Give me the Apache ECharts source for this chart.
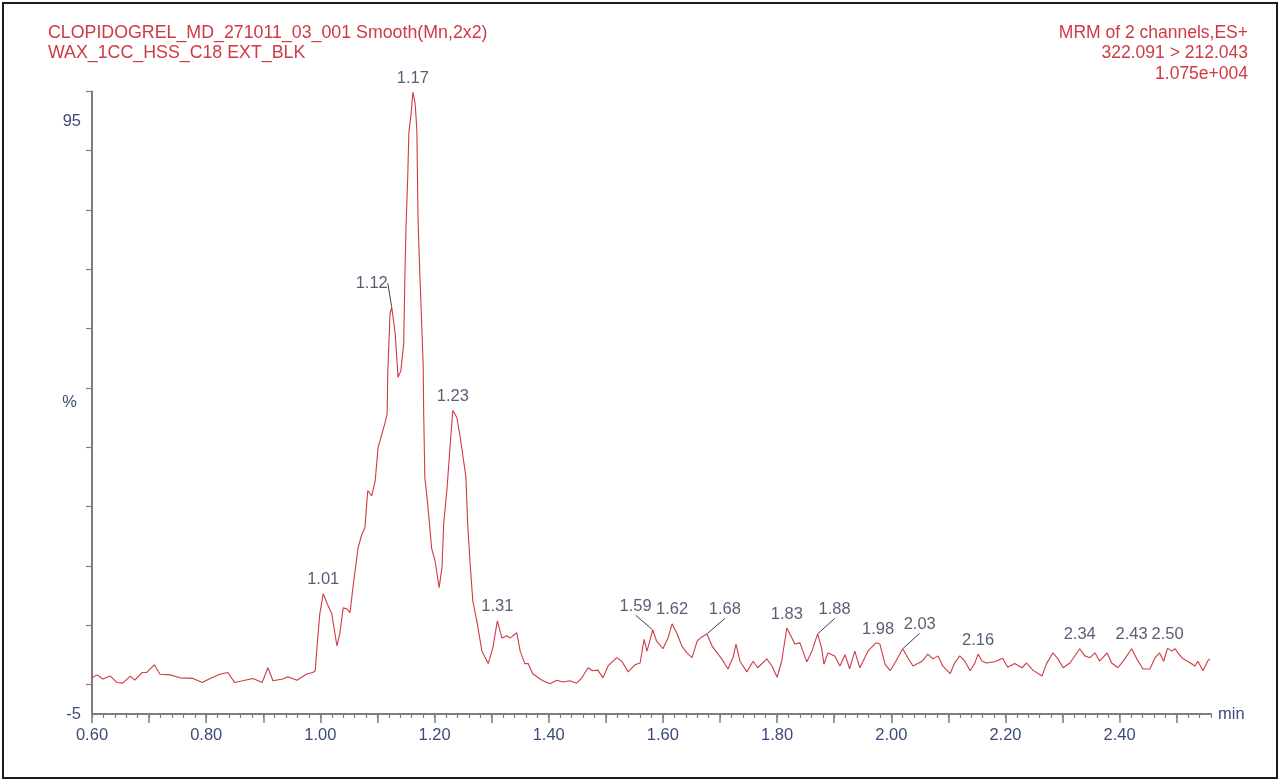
<!DOCTYPE html>
<html>
<head>
<meta charset="utf-8">
<script src="https://cdn.jsdelivr.net/npm/echarts@6/dist/echarts.min.js"></script>
<style>
  html, body { margin: 0; padding: 0; background: #ffffff; }
  #frame { position: absolute; left: 2px; top: 2px; width: 1272px; height: 773px; border: 2px solid #1a1a1a; box-sizing: content-box; }
  #chart { position: absolute; left: 0; top: 0; width: 1280px; height: 781px; }
</style>
</head>
<body>
<div id="frame"></div>
<div id="chart"></div>
<script>
// ---------------- data ----------------
const headerLeft = ['CLOPIDOGREL_MD_271011_03_001 Smooth(Mn,2x2)', 'WAX_1CC_HSS_C18 EXT_BLK'];
const headerRight = ['MRM of 2 channels,ES+', '322.091 > 212.043', '1.075e+004'];

const xLabelValues = [0.6, 0.8, 1.0, 1.2, 1.4, 1.6, 1.8, 2.0, 2.2, 2.4];
const xMajorTicks = [0.6, 0.7, 0.8, 0.9, 1.0, 1.1, 1.2, 1.3, 1.4, 1.5, 1.6, 1.7, 1.8, 1.9, 2.0, 2.1, 2.2, 2.3, 2.4, 2.5];
const yLabelValues = [-5, 95];
const yTickValues = [0, 10, 20, 30, 40, 50, 60, 70, 80, 90, 100];

// retention time (min)
const times = [
  0.600, 0.609, 0.619, 0.632, 0.644, 0.654, 0.667, 0.675, 0.688, 0.696,
  0.709, 0.719, 0.737, 0.754, 0.777, 0.793, 0.807, 0.824, 0.838, 0.850,
  0.864, 0.882, 0.898, 0.908, 0.917, 0.934, 0.943, 0.959, 0.977, 0.987,
  0.991, 0.994, 0.999, 1.005, 1.012, 1.020, 1.024, 1.029, 1.034, 1.040,
  1.047, 1.052, 1.057, 1.066, 1.073, 1.078, 1.083, 1.090, 1.096, 1.101,
  1.108, 1.113, 1.117, 1.118, 1.122, 1.125, 1.131, 1.136, 1.141, 1.146,
  1.148, 1.150, 1.153, 1.155, 1.159, 1.162, 1.166, 1.169, 1.171, 1.174,
  1.180, 1.181, 1.183, 1.188, 1.195, 1.201, 1.208, 1.213, 1.216, 1.222,
  1.227, 1.232, 1.239, 1.244, 1.250, 1.255, 1.258, 1.262, 1.267, 1.274,
  1.283, 1.294, 1.302, 1.310, 1.318, 1.327, 1.332, 1.344, 1.350, 1.358,
  1.364, 1.372, 1.385, 1.390, 1.402, 1.414, 1.425, 1.437, 1.449, 1.458,
  1.469, 1.477, 1.486, 1.495, 1.504, 1.519, 1.528, 1.539, 1.551, 1.560,
  1.567, 1.572, 1.577, 1.582, 1.589, 1.600, 1.609, 1.616, 1.625, 1.633,
  1.642, 1.651, 1.660, 1.668, 1.677, 1.686, 1.695, 1.703, 1.714, 1.723,
  1.728, 1.735, 1.747, 1.758, 1.766, 1.782, 1.791, 1.800, 1.808, 1.817,
  1.824, 1.831, 1.840, 1.852, 1.861, 1.871, 1.878, 1.882, 1.889, 1.901,
  1.910, 1.919, 1.927, 1.936, 1.945, 1.959, 1.973, 1.980, 1.989, 1.998,
  2.008, 2.020, 2.029, 2.038, 2.054, 2.064, 2.073, 2.082, 2.090, 2.103,
  2.111, 2.120, 2.129, 2.138, 2.146, 2.152, 2.159, 2.167, 2.181, 2.195,
  2.204, 2.216, 2.229, 2.237, 2.248, 2.264, 2.272, 2.283, 2.292, 2.301,
  2.313, 2.330, 2.339, 2.348, 2.357, 2.365, 2.378, 2.386, 2.397, 2.409,
  2.421, 2.430, 2.441, 2.453, 2.462, 2.470, 2.477, 2.484, 2.491, 2.497,
  2.502, 2.511, 2.519, 2.532, 2.537, 2.546, 2.554, 2.558
];
// relative intensity (%)
const intensity = [
  1.1, 1.6, 0.9, 1.4, 0.3, 0.2, 1.4, 0.7, 2.0, 2.0,
  3.3, 1.7, 1.6, 1.1, 1.0, 0.3, 1.0, 1.7, 2.0, 0.3,
  0.6, 1.0, 0.3, 2.8, 0.6, 0.9, 1.3, 0.7, 1.8, 2.0,
  2.3, 6.2, 11.9, 15.3, 13.6, 11.9, 9.5, 6.5, 8.5, 12.9,
  12.7, 12.1, 16.3, 23.0, 25.4, 26.4, 32.7, 31.8, 34.3, 39.9,
  42.3, 44.0, 45.6, 52.4, 62.5, 63.6, 59.2, 51.8, 52.9, 57.5,
  68.6, 77.1, 85.5, 93.0, 96.3, 99.9, 98.0, 93.5, 78.8, 69.8,
  54.1, 45.6, 34.9, 30.4, 22.9, 20.8, 16.3, 19.7, 27.1, 33.2,
  39.9, 46.2, 45.0, 42.3, 38.3, 34.9, 27.1, 20.8, 14.1, 10.7,
  5.6, 3.5, 6.1, 10.7, 7.8, 8.2, 7.8, 8.7, 5.6, 3.5,
  3.5, 1.8, 0.9, 0.6, 0.1, 0.7, 0.4, 0.6, 0.2, 1.1,
  2.8, 2.3, 2.4, 1.1, 3.1, 4.5, 3.9, 2.1, 3.3, 3.6,
  7.6, 5.6, 7.3, 9.2, 7.3, 6.0, 7.8, 10.2, 8.5, 6.5,
  5.3, 4.5, 7.3, 8.0, 8.5, 6.5, 5.3, 4.3, 2.6, 4.6,
  6.8, 3.9, 2.1, 3.9, 2.8, 4.3, 3.1, 1.2, 3.9, 9.5,
  8.2, 6.8, 7.0, 3.8, 5.6, 8.5, 6.1, 3.4, 5.3, 4.8,
  3.1, 5.0, 2.6, 5.6, 2.8, 5.6, 7.0, 6.8, 3.4, 2.3,
  3.9, 6.0, 4.5, 3.1, 3.9, 5.1, 4.3, 4.8, 3.1, 1.8,
  3.6, 4.8, 3.9, 2.3, 3.5, 5.1, 3.9, 3.6, 3.8, 4.4,
  2.9, 3.5, 2.8, 3.6, 2.4, 1.4, 3.5, 5.3, 4.3, 2.8,
  3.6, 6.0, 4.8, 4.5, 5.3, 3.9, 5.3, 3.6, 2.8, 4.3,
  6.0, 4.3, 2.6, 2.6, 4.5, 5.3, 3.9, 6.1, 5.6, 6.0,
  5.3, 4.3, 3.9, 3.1, 3.9, 2.3, 3.9, 4.3
];

// annotated peaks
const peakTimes  = [1.005, 1.125, 1.162, 1.232, 1.310, 1.582, 1.616, 1.677, 1.817, 1.871, 1.977, 2.020, 2.152, 2.330, 2.421, 2.484];
const peakValues = [15.3, 63.6, 99.9, 46.2, 10.7, 9.2, 10.2, 8.5, 9.5, 8.5, 6.9, 6.0, 5.1, 6.0, 6.0, 6.1];
const peakLabels = ['1.01', '1.12', '1.17', '1.23', '1.31', '1.59', '1.62', '1.68', '1.83', '1.88', '1.98', '2.03', '2.16', '2.34', '2.43', '2.50'];

// ---------------- styling / layout ----------------
const RED = '#cf3a44';
const AXIS_TXT = '#3d4a7c';
const PEAK_TXT = '#2e3550';
const AXIS_LINE = '#7d7d7d';
const FONT = 'Liberation Sans, Arial, sans-serif';
// label displacements (px) for labels drawn with a leader line
const leaderShift = { '1.12': [-20, -10], '1.59': [-17, -9], '1.68': [18, -10], '1.88': [17, -10], '2.03': [17, -10] };

const minorTicks = [];
for (let i = 0; i <= 98; i++) minorTicks.push(Math.round((0.6 + i * 0.02) * 1000) / 1000);

const lineData = times.map((t, i) => [t, intensity[i]]);
const peakData = peakTimes.map((t, i) => ({
  value: [t, peakValues[i]],
  name: peakLabels[i],
  labelLine: { show: !!leaderShift[peakLabels[i]] }
}));

const headerGraphics = [];
headerLeft.forEach((txt, i) => headerGraphics.push({
  type: 'text', left: 48, top: 24 + i * 20.5,
  style: { text: txt, fill: RED, font: '17.8px ' + FONT }
}));
headerRight.forEach((txt, i) => headerGraphics.push({
  type: 'text', right: 32, top: 24 + i * 20.5,
  style: { text: txt, fill: RED, font: '17.5px ' + FONT }
}));

const chart = echarts.init(document.getElementById('chart'), null, { renderer: 'canvas' });

const option = {
  backgroundColor: 'transparent',
  animation: false,
  textStyle: { fontFamily: FONT },
  graphic: headerGraphics,
  grid: { left: 92, right: 69, top: 91.4, bottom: 67, containLabel: false },
  xAxis: [
    {
      type: 'value', min: 0.6, max: 2.56,
      name: 'min', nameLocation: 'end', nameGap: 7,
      nameTextStyle: { color: AXIS_TXT, fontSize: 16.5, fontFamily: FONT, verticalAlign: 'middle' },
      axisLine: { show: true, onZero: false, lineStyle: { color: AXIS_LINE, width: 2 } },
      axisTick: { show: true, inside: false, length: 9, customValues: xMajorTicks, lineStyle: { color: AXIS_LINE, width: 1.5 } },
      axisLabel: { show: true, customValues: xLabelValues, margin: 13, color: AXIS_TXT, fontSize: 16.5, fontFamily: FONT,
                   formatter: v => v.toFixed(2) },
      splitLine: { show: false }
    },
    {
      type: 'value', min: 0.6, max: 2.56, position: 'bottom',
      axisLine: { show: false, onZero: false },
      axisTick: { show: true, inside: false, length: 4, customValues: minorTicks, lineStyle: { color: AXIS_LINE, width: 1.2 } },
      axisLabel: { show: false },
      splitLine: { show: false }
    }
  ],
  yAxis: [
    {
      type: 'value', min: -5, max: 100,
      name: '%', nameLocation: 'middle', nameGap: 15, nameRotate: 0, nameMoveOverlap: false,
      nameTextStyle: { color: AXIS_TXT, fontSize: 16.5, fontFamily: FONT },
      axisLine: { show: true, onZero: false, lineStyle: { color: AXIS_LINE, width: 2 } },
      axisTick: { show: true, inside: false, length: 6, customValues: yTickValues, lineStyle: { color: AXIS_LINE, width: 1.2 } },
      axisLabel: { show: true, customValues: yLabelValues, margin: 11, color: AXIS_TXT, fontSize: 16.5, fontFamily: FONT },
      splitLine: { show: false }
    }
  ],
  series: [
    {
      type: 'line', xAxisIndex: 0, yAxisIndex: 0,
      data: lineData, showSymbol: false, smooth: false,
      lineStyle: { color: RED, width: 1.1 },
      silent: true, z: 3
    },
    {
      type: 'scatter', xAxisIndex: 0, yAxisIndex: 0,
      data: peakData, symbolSize: 1,
      itemStyle: { color: 'rgba(0,0,0,0)' },
      label: { show: true, position: 'top', distance: 5, formatter: p => p.name,
               color: PEAK_TXT, fontSize: 16.5, fontFamily: FONT },
      labelLine: { show: false, lineStyle: { color: '#3a3f55', width: 1 } },
      labelLayout: (params) => {
        const s = leaderShift[peakLabels[params.dataIndex]];
        return s ? { dx: s[0], dy: s[1] } : {};
      },
      silent: true, z: 4
    }
  ]
};
chart.setOption(option);
</script>
</body>
</html>
